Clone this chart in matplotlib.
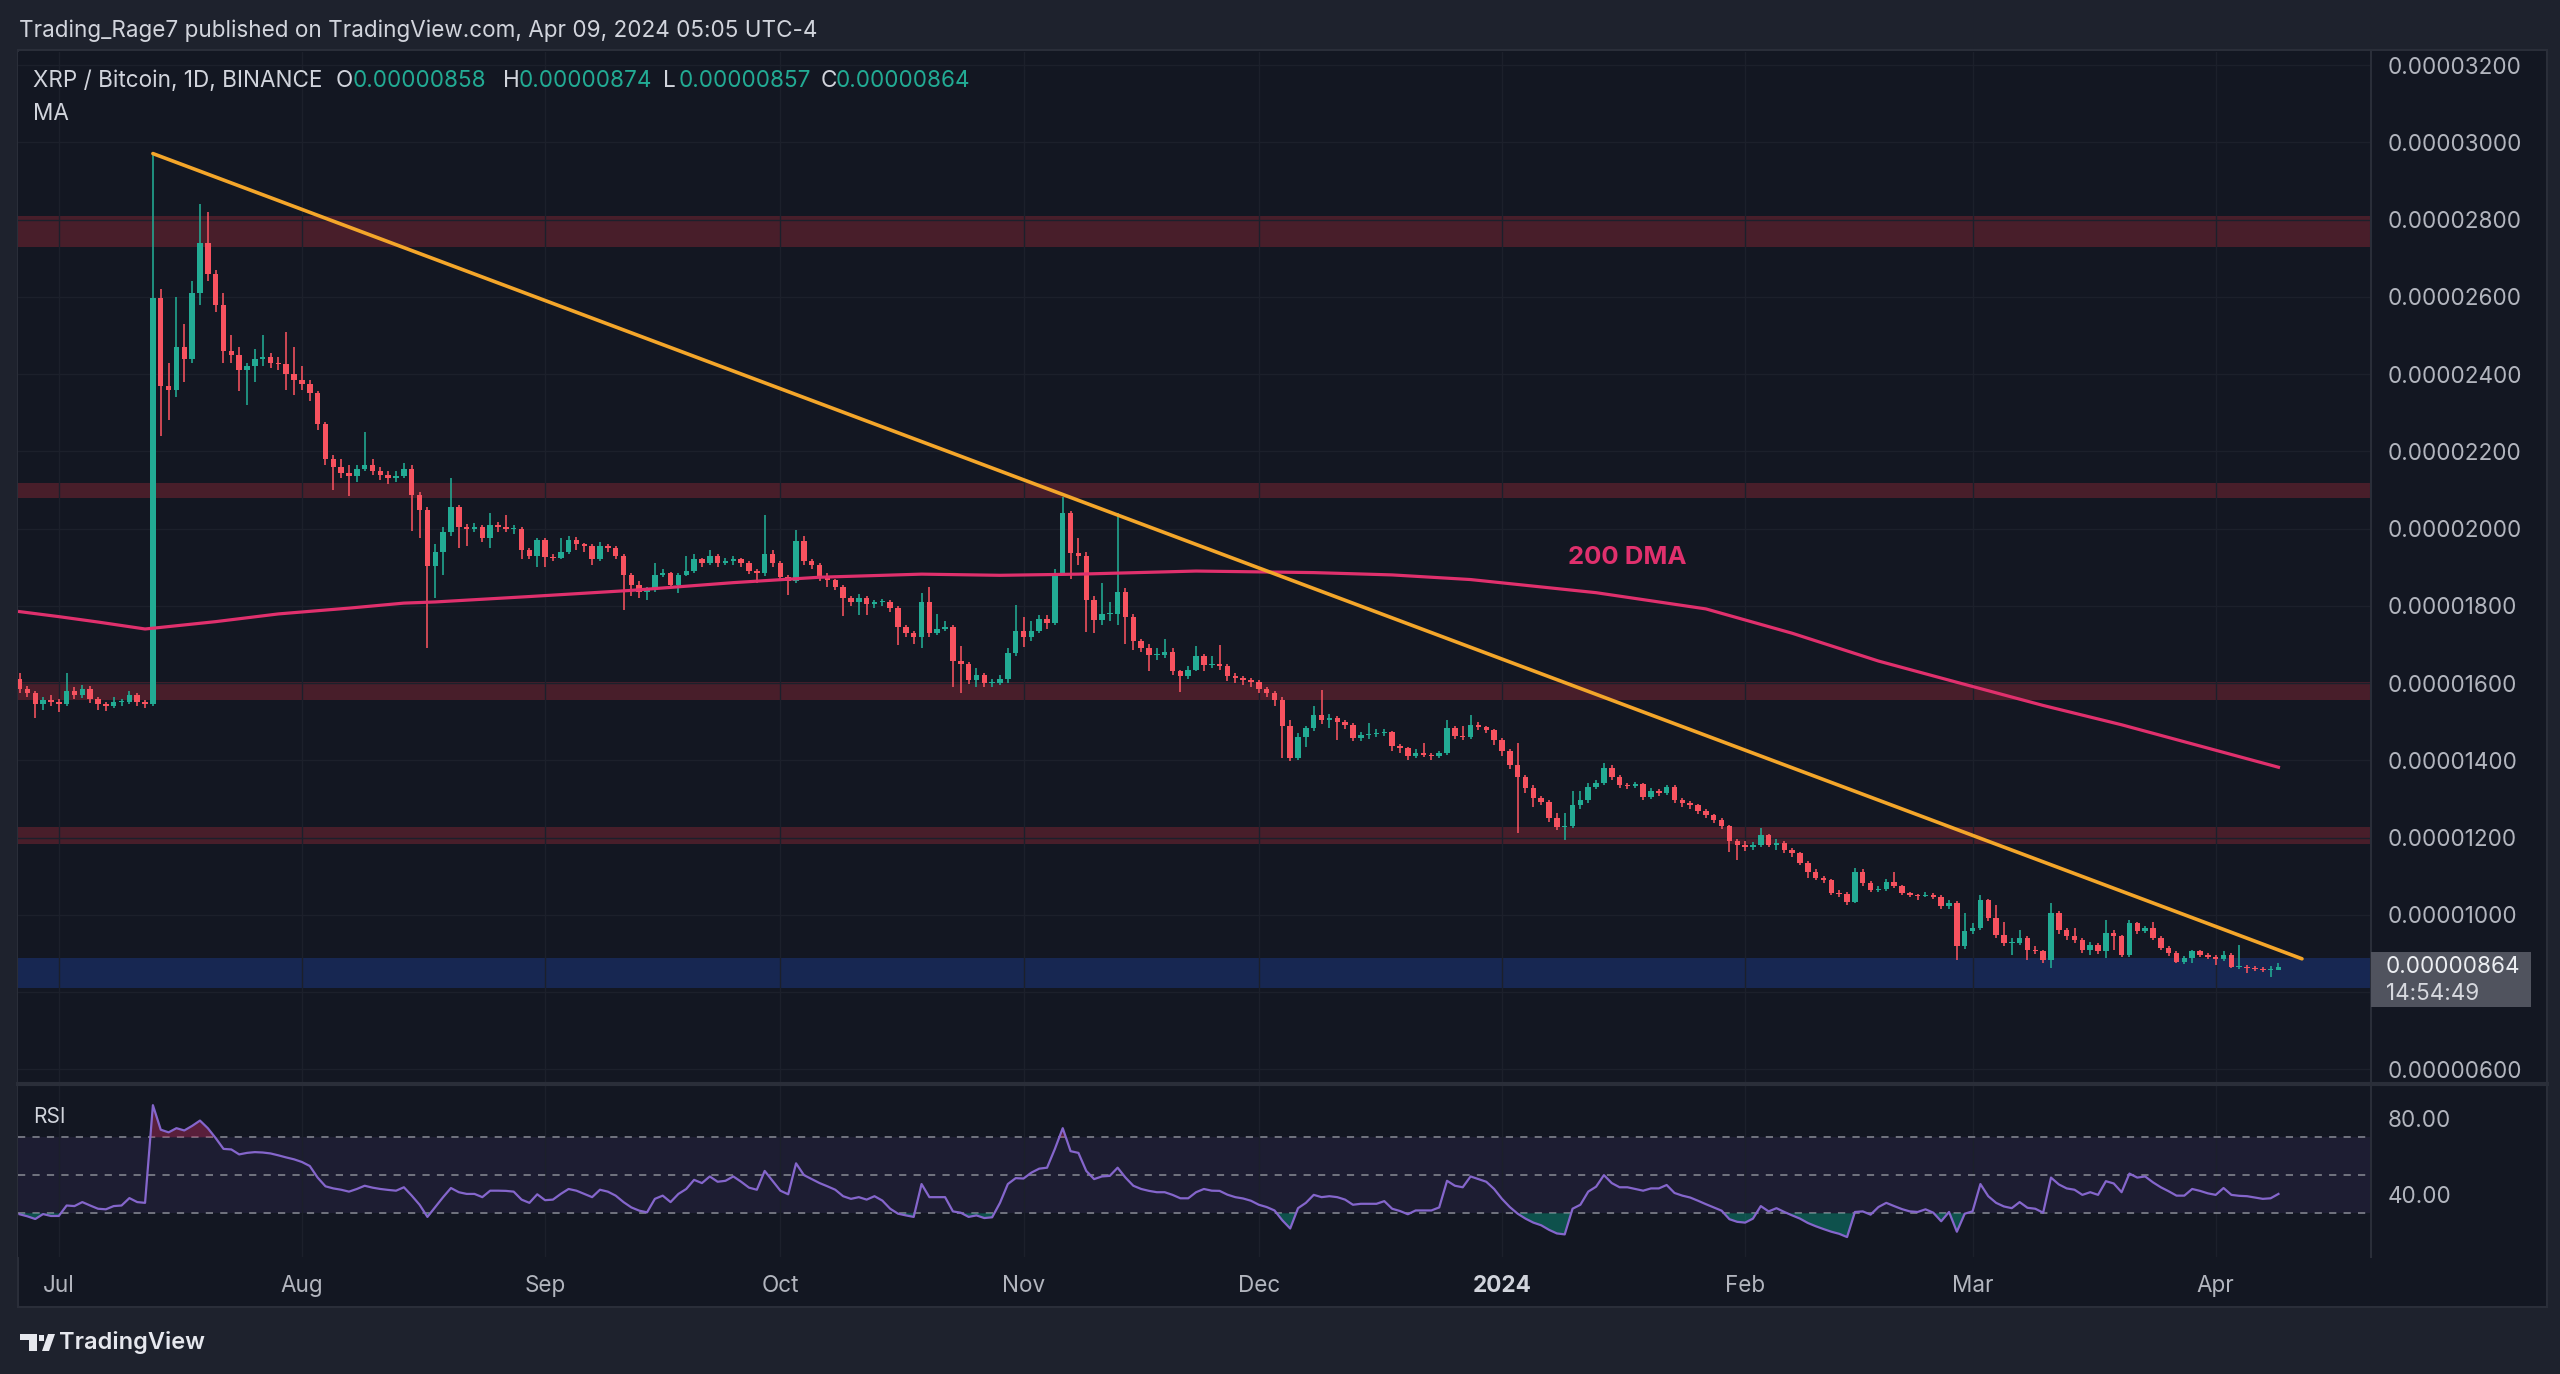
import numpy as np
import pandas as pd
import matplotlib
matplotlib.use("Agg")
import matplotlib.pyplot as plt
import matplotlib.dates as mdates
from matplotlib.patches import Rectangle, Polygon
from matplotlib.lines import Line2D

plt.rcParams['font.family'] = ['Inter', 'DejaVu Sans']

# ---------------- data (prices in satoshi = 1e-8 BTC) ----------------
start_date = "2023-06-26"
first_open = 1610
close = [
    1585, 1575, 1545, 1555, 1550, 1545, 1580, 1570, 1585, 1560,
    1545, 1540, 1550, 1550, 1570, 1550, 1545, 2596, 2370, 2360,
    2470, 2440, 2610, 2740, 2660, 2580, 2460, 2450, 2410, 2420,
    2440, 2445, 2430, 2425, 2400, 2385, 2375, 2350, 2270, 2180,
    2160, 2145, 2135, 2155, 2165, 2150, 2140, 2130, 2135, 2155,
    2087, 2048, 1902, 1940, 1990, 2057, 2005, 2000, 2005, 1975,
    2010, 2005, 2000, 2000, 1945, 1930, 1970, 1927, 1925, 1940,
    1970, 1960, 1955, 1920, 1955, 1950, 1930, 1880, 1855, 1835,
    1840, 1880, 1885, 1855, 1880, 1890, 1920, 1910, 1930, 1910,
    1915, 1920, 1910, 1890, 1885, 1935, 1910, 1875, 1865, 1967,
    1915, 1905, 1876, 1867, 1850, 1820, 1810, 1820, 1804, 1810,
    1810, 1794, 1746, 1729, 1720, 1810, 1730, 1740, 1745, 1656,
    1650, 1608, 1620, 1600, 1600, 1610, 1678, 1734, 1720, 1734,
    1765, 1755, 1885, 2040, 1936, 1930, 1815, 1764, 1780, 1780,
    1837, 1772, 1708, 1690, 1673, 1673, 1680, 1630, 1617, 1635,
    1670, 1647, 1650, 1645, 1617, 1613, 1608, 1603, 1585, 1574,
    1557, 1488, 1405, 1460, 1483, 1518, 1505, 1510, 1500, 1492,
    1457, 1465, 1467, 1470, 1472, 1436, 1431, 1410, 1420, 1415,
    1410, 1420, 1483, 1462, 1460, 1492, 1485, 1478, 1453, 1423,
    1388, 1358, 1328, 1302, 1293, 1250, 1228, 1230, 1285, 1297,
    1332, 1340, 1380, 1358, 1336, 1333, 1338, 1306, 1320, 1315,
    1330, 1298, 1290, 1283, 1270, 1259, 1246, 1229, 1190, 1180,
    1175, 1180, 1207, 1181, 1185, 1168, 1160, 1134, 1112, 1095,
    1090, 1056, 1053, 1034, 1112, 1082, 1065, 1068, 1086, 1074,
    1056, 1052, 1048, 1052, 1046, 1022, 1030, 918, 957, 965,
    1039, 991, 948, 927, 927, 940, 909, 905, 883, 1004,
    961, 944, 935, 909, 922, 905, 952, 944, 896, 978,
    957, 965, 940, 914, 900, 879, 888, 905, 897, 890,
    886, 896, 866, 866, 863, 860, 858, 858, 864,
]
high = [
    1625, 1592, 1580, 1565, 1570, 1560, 1625, 1590, 1595, 1592,
    1565, 1550, 1565, 1558, 1580, 1575, 1555, 2971, 2620, 2430,
    2600, 2530, 2640, 2840, 2820, 2670, 2610, 2500, 2470, 2430,
    2465, 2500, 2455, 2445, 2510, 2470, 2420, 2385, 2355, 2275,
    2190, 2180, 2165, 2165, 2250, 2180, 2160, 2150, 2150, 2170,
    2165, 2095, 2055, 1960, 2005, 2130, 2060, 2012, 2015, 2010,
    2040, 2018, 2035, 2008, 2005, 1950, 1975, 1975, 1935, 1975,
    1980, 1978, 1962, 1960, 1965, 1960, 1955, 1935, 1885, 1865,
    1850, 1910, 1895, 1888, 1885, 1928, 1935, 1925, 1945, 1935,
    1925, 1928, 1925, 1915, 1895, 2036, 1945, 1915, 1880, 1997,
    1980, 1920, 1910, 1885, 1870, 1855, 1825, 1830, 1825, 1815,
    1818, 1815, 1800, 1750, 1735, 1832, 1848, 1780, 1760, 1750,
    1695, 1655, 1640, 1625, 1610, 1620, 1690, 1802, 1770, 1760,
    1775, 1775, 1895, 2083, 2045, 1975, 1940, 1825, 1860, 1810,
    2040, 1845, 1780, 1715, 1700, 1690, 1715, 1690, 1635, 1645,
    1695, 1675, 1670, 1699, 1650, 1625, 1618, 1612, 1608, 1590,
    1580, 1565, 1505, 1470, 1490, 1540, 1582, 1520, 1515, 1505,
    1497, 1472, 1496, 1480, 1480, 1476, 1442, 1435, 1428, 1445,
    1420, 1425, 1505, 1488, 1488, 1518, 1498, 1490, 1482, 1458,
    1428, 1445, 1362, 1335, 1308, 1298, 1263, 1263, 1320, 1320,
    1340, 1350, 1393, 1388, 1362, 1342, 1345, 1340, 1328, 1325,
    1336, 1335, 1302, 1295, 1288, 1275, 1262, 1250, 1232, 1195,
    1190, 1188, 1225, 1210, 1195, 1190, 1172, 1162, 1138, 1118,
    1100, 1093, 1065, 1060, 1120, 1118, 1088, 1075, 1092, 1110,
    1078, 1060, 1055, 1058, 1056, 1050, 1038, 1035, 1004, 978,
    1052, 1042, 1025, 982, 940, 960, 945, 918, 910, 1030,
    1010, 965, 965, 940, 930, 928, 987, 960, 948, 987,
    982, 972, 982, 945, 918, 905, 892, 910, 908, 900,
    895, 905, 900, 922, 870, 868, 865, 868, 874,
]
low = [
    1575, 1565, 1510, 1530, 1540, 1525, 1540, 1560, 1562, 1548,
    1530, 1528, 1535, 1540, 1545, 1540, 1535, 1540, 2240, 2280,
    2340, 2380, 2430, 2580, 2640, 2560, 2430, 2430, 2355, 2320,
    2380, 2420, 2415, 2410, 2360, 2345, 2360, 2330, 2255, 2165,
    2100, 2130, 2085, 2120, 2150, 2140, 2125, 2115, 2120, 2130,
    1995, 1975, 1690, 1820, 1880, 1980, 1950, 1955, 1990, 1965,
    1950, 1992, 1990, 1985, 1920, 1920, 1900, 1900, 1915, 1920,
    1935, 1945, 1940, 1905, 1915, 1940, 1920, 1790, 1825, 1820,
    1815, 1835, 1875, 1845, 1833, 1878, 1885, 1900, 1905, 1900,
    1905, 1905, 1900, 1882, 1860, 1878, 1900, 1865, 1828, 1858,
    1905, 1895, 1865, 1850, 1840, 1773, 1800, 1776, 1776, 1795,
    1800, 1785, 1699, 1720, 1700, 1690, 1720, 1725, 1735, 1590,
    1575, 1598, 1590, 1590, 1590, 1595, 1600, 1670, 1694, 1710,
    1730, 1740, 1750, 1880, 1870, 1905, 1732, 1730, 1750, 1760,
    1750, 1700, 1685, 1680, 1630, 1660, 1665, 1620, 1578, 1610,
    1630, 1630, 1640, 1635, 1605, 1600, 1595, 1590, 1575, 1565,
    1540, 1405, 1398, 1400, 1435, 1475, 1495, 1483, 1453, 1480,
    1450, 1450, 1455, 1460, 1462, 1425, 1420, 1400, 1405, 1408,
    1400, 1405, 1415, 1455, 1452, 1455, 1478, 1470, 1440, 1410,
    1378, 1213, 1315, 1280, 1285, 1240, 1220, 1194, 1225, 1275,
    1290, 1325, 1335, 1350, 1328, 1325, 1328, 1298, 1300, 1308,
    1310, 1290, 1280, 1275, 1262, 1250, 1238, 1222, 1162, 1142,
    1165, 1168, 1175, 1175, 1168, 1160, 1150, 1128, 1095, 1090,
    1082, 1050, 1045, 1025, 1030, 1075, 1060, 1060, 1062, 1070,
    1050, 1045, 1038, 1045, 1040, 1015, 1015, 883, 912, 950,
    960, 985, 940, 918, 896, 922, 883, 898, 875, 862,
    950, 935, 928, 900, 896, 898, 888, 908, 890, 890,
    950, 952, 935, 908, 893, 875, 872, 875, 890, 885,
    870, 880, 862, 860, 850, 855, 852, 840, 857,
]
rsi = [
    29.5, 28.4, 27.0, 29.6, 28.6, 28.6, 34.1, 33.8, 35.9, 34.1, 32.4, 32.1, 33.8, 34.1, 38.0, 35.9, 35.5,
    86.9, 74.0, 72.6, 74.8, 73.6, 76.0, 78.8, 74.8, 69.6, 63.9, 63.6, 61.0, 61.8, 62.2, 62.0, 61.5, 60.5,
    59.4, 58.4, 57.0, 54.9,
    48.8, 44.2, 43.1, 42.4, 41.4, 42.8, 44.5, 43.5, 42.8, 42.3, 41.9, 43.7, 39.3, 34.5, 28.1, 33.3, 38.5,
    43.3, 41.1, 40.2, 40.2, 38.5, 41.9, 41.9, 41.8, 41.4, 37.2,
    35.5, 40.0, 36.9, 37.2, 40.2, 42.8, 41.9, 40.2, 38.5, 42.4, 41.4, 39.3, 35.9, 33.1, 31.4, 30.5, 37.6,
    39.3, 35.9, 40.2, 42.8, 47.6, 45.9, 49.4, 46.6, 47.1, 49.4, 46.6, 43.5, 42.4,
    52.3, 47.1, 41.9, 40.0, 56.3, 50.1, 48.0, 45.9, 44.2, 42.4, 39.0, 37.6, 38.5, 37.2, 39.0, 36.7, 32.4,
    29.8, 28.9, 28.1, 45.4, 38.5, 38.5, 38.5, 31.0, 30.3, 28.1, 28.9, 27.5, 27.9,
    35.5, 45.4, 48.5, 48.3, 51.4, 53.5, 54.0, 63.9, 74.8, 62.7, 61.8, 52.3, 48.0, 49.4, 49.7, 54.0, 48.8,
    44.5, 42.8, 41.8, 41.1, 41.1, 39.7, 37.9, 37.9, 41.1, 42.8, 41.9, 41.8, 39.8, 38.5, 37.8, 36.6, 34.5,
    33.3, 31.5,
    26.3, 22.0, 32.7, 35.5, 39.7, 38.5, 39.0, 38.5, 37.2, 34.5, 35.0, 35.0, 35.0, 36.4, 32.4, 31.2, 29.5,
    31.5, 31.5, 31.5, 33.1, 47.1, 44.5, 43.7, 49.4, 48.0, 46.6, 42.8, 37.6, 33.3, 29.8, 27.2, 25.1, 23.7,
    21.3, 19.4, 18.9,
    32.4, 34.5, 41.4, 44.0, 50.1, 45.9, 43.7, 43.7, 42.8, 41.9, 43.1, 43.1, 44.9, 40.7, 39.3, 38.3, 36.6,
    34.8, 33.1, 31.4, 26.9, 25.5, 25.1, 27.2, 33.8, 31.0, 32.7, 30.7, 28.9, 27.2, 24.9, 23.2, 21.7, 20.3,
    19.2, 17.5,
    30.7, 31.0, 29.3, 33.3, 35.5, 33.8, 32.2, 31.0, 30.7, 32.1, 30.3, 25.8, 30.7, 20.3, 29.8, 31.0, 45.4,
    39.0, 35.5, 33.6, 32.7, 35.9, 32.9, 32.4, 30.3, 48.8, 45.2, 43.1, 42.4, 39.7, 41.1, 39.7, 46.9, 45.7,
    41.1, 50.9, 48.8, 49.4, 46.3, 43.7, 41.6, 39.3, 39.3, 42.8, 41.8, 40.5, 39.7, 43.3, 39.7, 39.2, 39.0,
    38.3, 37.6, 37.9, 40.2,
]
ma_dates = ["2023-06-26", "2023-07-01", "2023-07-06", "2023-07-12", "2023-07-13", "2023-07-21",
            "2023-07-29", "2023-08-07", "2023-08-14", "2023-08-18", "2023-08-30", "2023-09-12",
            "2023-09-25", "2023-10-06", "2023-10-19", "2023-10-29", "2023-11-08", "2023-11-23",
            "2023-12-08", "2023-12-18", "2023-12-28", "2024-01-13", "2024-01-27", "2024-02-07",
            "2024-02-18", "2024-02-28", "2024-03-10", "2024-03-20", "2024-03-30", "2024-04-09"]
ma_values = [1785, 1772, 1758, 1740, 1742, 1759, 1779, 1794, 1807, 1810, 1824, 1840, 1860, 1874,
             1882, 1879, 1882, 1890, 1886, 1880, 1868, 1834, 1792, 1729, 1657, 1602, 1542, 1492,
             1437, 1382]
trend_dates = ["2023-07-13", "2024-04-12"]
trend_values = [2971, 886]
red_zones = [(2730, 2810), (2079, 2118), (1556, 1604), (1184, 1227)]
blue_zone = (810, 888)
price_ticks = [600, 800, 1000, 1200, 1400, 1600, 1800, 2000, 2200, 2400, 2600, 2800, 3000, 3200]
hidden_price_tick = 800          # covered by the last-price label in the reference
rsi_ticks = [80, 40]
rsi_levels = [70, 50, 30]
month_ticks = ["2023-07-01", "2023-08-01", "2023-09-01", "2023-10-01", "2023-11-01",
               "2023-12-01", "2024-01-01", "2024-02-01", "2024-03-01", "2024-04-01"]
month_labels = ["Jul", "Aug", "Sep", "Oct", "Nov", "Dec", "2024", "Feb", "Mar", "Apr"]
last_ohlc = {"O": 858, "H": 874, "L": 857, "C": 864}
countdown = "14:54:49"

assert len(close) == len(high) == len(low) == len(rsi), (len(close), len(high), len(low), len(rsi))

# ---------------- styling ----------------
W, H = 2560, 1374
OUTER = '#1e222d'
BG = '#131722'
GRID = '#1c202b'
BORDER = '#2a2e39'
TXT = '#d1d4dc'
AXT = '#b2b5be'
UP = '#22ab94'
DOWN = '#f7525f'
MA_C = '#e0306d'
ORANGE = '#f4a62a'
FS = 16.2


def fx(px):
    return px / W


def fy(py):
    return 1 - py / H


fig = plt.figure(figsize=(W / 100, H / 100), dpi=100, facecolor=OUTER)
fig.add_artist(Rectangle((fx(18), fy(1307)), (2547 - 18) / W, (1307 - 50) / H,
                         transform=fig.transFigure, facecolor=BG, edgecolor=BORDER,
                         lw=1.5, zorder=0))

ax = fig.add_axes([fx(18), fy(1082), (2371 - 18) / W, (1082 - 52) / H])
axr = fig.add_axes([fx(18), fy(1257), (2371 - 18) / W, (1257 - 1086) / H], sharex=ax)
for a in (ax, axr):
    a.set_facecolor(BG)
    for s in a.spines.values():
        s.set_visible(False)

dates = pd.date_range(start_date, periods=len(close), freq="D")
x = mdates.date2num(dates)
c = np.array(close, float)
o = np.r_[first_open, c[:-1]]
hi = np.maximum(np.array(high, float), np.maximum(o, c))
lo = np.minimum(np.array(low, float), np.minimum(o, c))
up = c >= o
cols = np.where(up, UP, DOWN)

# zones
for zlo, zhi in red_zones:
    ax.axhspan(zlo, zhi, color='#f23645', alpha=0.24, lw=0, zorder=1)
ax.axhspan(blue_zone[0], blue_zone[1], color='#2962ff', alpha=0.22, lw=0, zorder=1)

# candles
ax.vlines(x, lo, hi, colors=cols, lw=1.15, zorder=3)
ax.bar(x, np.maximum(np.abs(c - o), 2.5), bottom=np.minimum(o, c), width=0.7,
       color=cols, lw=0, zorder=4)

# 200 DMA
ax.plot(mdates.date2num(pd.to_datetime(ma_dates)), ma_values, color=MA_C, lw=2.3, zorder=5)
ax.text(mdates.date2num(pd.Timestamp("2024-01-17")), 1924, "200 DMA", color=MA_C,
        fontsize=18.5, fontweight='bold', ha='center', va='center', zorder=7)

# trendline
ax.plot(mdates.date2num(pd.to_datetime(trend_dates)), trend_values, color=ORANGE, lw=2.6,
        solid_capstyle='round', zorder=6)

x0 = mdates.date2num(pd.Timestamp("2023-07-01")) - 5.2
x1 = mdates.date2num(pd.Timestamp("2023-07-01")) + 294.8
ax.set_xlim(x0, x1)
ax.set_ylim(567, 3234)
ax.yaxis.tick_right()
ax.set_yticks(price_ticks)
ax.set_yticklabels(["" if v == hidden_price_tick else f"{v * 1e-8:.8f}" for v in price_ticks])
ax.tick_params(axis='y', length=0, pad=12, labelsize=FS, labelcolor=AXT)
ax.tick_params(axis='x', length=0, labelbottom=False)

mt = mdates.date2num(pd.to_datetime(month_ticks))
axr.set_xticks(mt)
axr.set_xticklabels(month_labels)
axr.tick_params(axis='x', length=0, pad=13, labelsize=FS, labelcolor=AXT)
for lab in axr.get_xticklabels():
    if lab.get_text() == "2024":
        lab.set_fontweight('bold')
        lab.set_color(TXT)
ax.grid(True, axis='both', color=GRID, lw=1.0, zorder=0)
axr.grid(True, axis='x', color=GRID, lw=1.0, zorder=0)

# RSI pane
r = np.array(rsi)
axr.axhspan(30, 70, color='#7e57c2', alpha=0.10, lw=0, zorder=1)
for lv in rsi_levels:
    axr.axhline(lv, color='#787b86', lw=1.3, ls=(0, (4, 4)), zorder=2)
axr.fill_between(x, r, 70, where=r >= 70, interpolate=True, color='#b02a5b', alpha=0.45, lw=0, zorder=2)
axr.fill_between(x, r, 30, where=r <= 30, interpolate=True, color='#089981', alpha=0.45, lw=0, zorder=2)
axr.plot(x, r, color='#8566cc', lw=1.6, zorder=3)
axr.set_ylim(7, 97)
axr.yaxis.tick_right()
axr.set_yticks(rsi_ticks)
axr.set_yticklabels([f"{v:.2f}" for v in rsi_ticks])
axr.tick_params(axis='y', length=0, pad=12, labelsize=FS, labelcolor=AXT)
axr.text(0.0065, 0.82, "RSI", transform=axr.transAxes, color=TXT, fontsize=15, va='center')

# separators
fig.add_artist(Line2D([fx(18), fx(2547)], [fy(1084), fy(1084)], color=BORDER, lw=3, zorder=8))
fig.add_artist(Line2D([fx(2371), fx(2371)], [fy(50), fy(1257)], color=BORDER, lw=1.5, zorder=8))

# last price label
fig.add_artist(Rectangle((fx(2371), fy(1007)), 160 / W, 55 / H, transform=fig.transFigure,
                         facecolor='#50535e', edgecolor='none', zorder=10))
fig.text(fx(2386), fy(967), f"{last_ohlc['C'] * 1e-8:.8f}", color='#eceef2', fontsize=FS,
         va='center', ha='left', zorder=11)
fig.text(fx(2386), fy(994), countdown, color='#d6d8de', fontsize=FS, va='center', ha='left', zorder=11)

# header texts
fig.text(fx(19), fy(31), "Trading_Rage7 published on TradingView.com, Apr 09, 2024 05:05 UTC-4",
         color=TXT, fontsize=FS, va='center', ha='left')
fig.text(fx(33), fy(81), "XRP / Bitcoin, 1D, BINANCE", color=TXT, fontsize=FS, va='center', ha='left', zorder=9)
hdr_pos = [(336, 353), (503, 519), (663, 679), (821, 836)]
for (lx, vx), key in zip(hdr_pos, ["O", "H", "L", "C"]):
    fig.text(fx(lx), fy(81), key, color=TXT, fontsize=FS, va='center', ha='left', zorder=9)
    fig.text(fx(vx), fy(81), f"{last_ohlc[key] * 1e-8:.8f}", color=UP, fontsize=FS,
             va='center', ha='left', zorder=9)
fig.text(fx(33), fy(114), "MA", color=TXT, fontsize=FS, va='center', ha='left', zorder=9)

# TradingView logo
LOGO = '#e6e8ee'
fig.add_artist(Rectangle((fx(20), fy(1340)), 17 / W, 6 / H, transform=fig.transFigure,
                         facecolor=LOGO, edgecolor='none'))
fig.add_artist(Rectangle((fx(29), fy(1351)), 8 / W, 17 / H, transform=fig.transFigure,
                         facecolor=LOGO, edgecolor='none'))
fig.add_artist(Polygon([(fx(42), fy(1351)), (fx(48), fy(1334)), (fx(55), fy(1334)), (fx(49), fy(1351))],
                       closed=True, transform=fig.transFigure, facecolor=LOGO, edgecolor='none'))
fig.add_artist(Rectangle((fx(39), fy(1341)), 5 / W, 6 / H, transform=fig.transFigure,
                         facecolor=LOGO, edgecolor='none'))
fig.text(fx(59), fy(1343), "TradingView", color=LOGO, fontsize=17, fontweight='semibold',
         va='center', ha='left')

fig.savefig("out.png", dpi=100, facecolor=OUTER)
